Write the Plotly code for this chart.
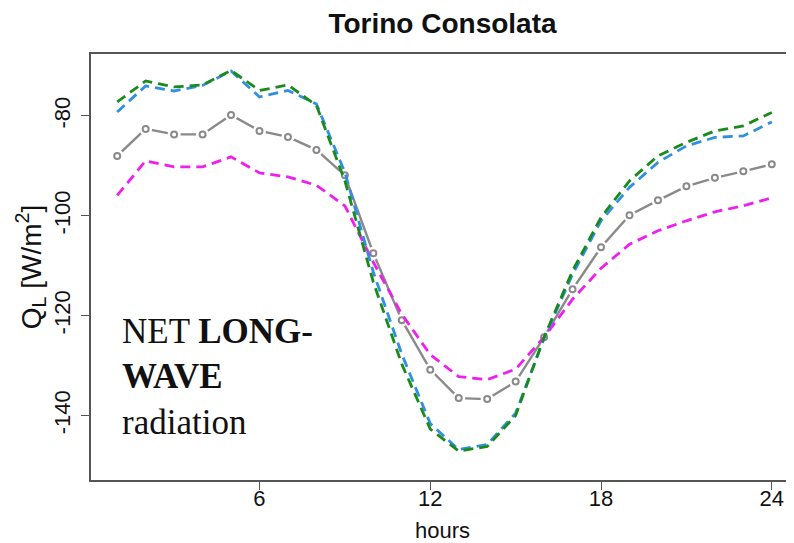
import plotly.graph_objects as go

hours = list(range(1, 25))

mean_ql = [-88.0, -82.6, -83.7, -83.7, -79.8, -83.0, -84.2, -86.8, -91.9, -107.5, -120.9, -130.8,
           -136.5, -136.7, -133.2, -124.3, -114.7, -106.3, -99.9, -96.9, -94.1, -92.4, -91.1, -89.7]
green_ql = [-77.2, -73.0, -74.2, -73.8, -70.9, -74.9, -73.8, -77.9, -93.0, -113.3, -129.7, -142.7,
            -147.1, -146.2, -140.0, -124.3, -111.0, -100.3, -93.0, -88.0, -85.3, -83.0, -82.0, -79.3]
blue_ql = [-79.2, -74.0, -75.0, -73.9, -71.0, -76.2, -74.9, -77.6, -91.3, -111.3, -127.7, -141.6,
           -146.8, -145.8, -139.5, -124.5, -111.7, -101.0, -94.3, -89.3, -86.0, -84.3, -84.0, -81.2]
pink_ql = [-95.9, -89.0, -90.2, -90.2, -88.2, -91.4, -92.2, -93.9, -98.0, -109.3, -119.7, -127.8,
           -132.2, -132.8, -130.7, -124.3, -116.7, -110.5, -105.7, -103.0, -101.0, -99.2, -98.0, -96.4]

x_ticks = [6, 12, 18, 24]
x_labels = ["6", "12", "18", "24"]
y_ticks = [-80, -100, -120, -140]
y_labels = ["-80", "-100", "-120", "-140"]

GRAY = "#8a8a8a"
fig = go.Figure()

# mean curve drawn R type="b" style: line, gaps around points, open points
fig.add_trace(go.Scatter(
    x=hours, y=mean_ql, mode="lines",
    line=dict(color=GRAY, width=2.4), showlegend=False, hoverinfo="skip"))
fig.add_trace(go.Scatter(
    x=hours, y=mean_ql, mode="markers",
    marker=dict(symbol="circle", size=13, color="white", line=dict(width=0)),
    showlegend=False, hoverinfo="skip"))
fig.add_trace(go.Scatter(
    x=hours, y=mean_ql, mode="markers",
    marker=dict(symbol="circle-open", size=6, color=GRAY, line=dict(width=2, color=GRAY)),
    showlegend=False))
fig.add_trace(go.Scatter(
    x=hours, y=pink_ql, mode="lines",
    line=dict(color="#ee1fee", width=2.8, dash="10px,6px"), showlegend=False))
fig.add_trace(go.Scatter(
    x=hours, y=blue_ql, mode="lines",
    line=dict(color="#2f8fe0", width=2.8, dash="10px,6px"), showlegend=False))
fig.add_trace(go.Scatter(
    x=hours, y=green_ql, mode="lines",
    line=dict(color="#1a8a1a", width=2.8, dash="10px,6px"), showlegend=False))

# page body has an 8px margin: figure is placed at (8, 8) in the window
OFF = 8
W, H = 794 - OFF, 543 - OFF
plot_left, plot_top, plot_bottom = 91, 54, 480

serif = "Liberation Serif, Times New Roman, serif"
ann = [
    ("NET <b>LONG-</b>", 331),
    ("<b>WAVE</b>", 376.5),
    ("radiation", 422),
]
annotations = []
for txt, ypix in ann:
    annotations.append(dict(
        text=txt, xref="paper", yref="paper",
        x=(120 - plot_left) / (794 - plot_left), y=(plot_bottom - ypix) / (plot_bottom - plot_top),
        xanchor="left", yanchor="middle", showarrow=False,
        font=dict(family=serif, size=35, color="#111111")))

sans = "Liberation Sans, Arial, sans-serif"
fig.update_layout(
    width=W, height=H,
    margin=dict(l=plot_left - OFF, r=0, t=plot_top - OFF, b=543 - plot_bottom, autoexpand=False),
    paper_bgcolor="white", plot_bgcolor="white",
    font=dict(family=sans, color="#111111"),
    title=dict(text="<b>Torino Consolata</b>", xref="paper", x=0.5, xanchor="center",
               yref="container", y=1 - (23 - OFF) / H, yanchor="middle",
               font=dict(family=sans, size=28, color="#111111")),
    xaxis=dict(range=[0.08, 24.78], tickvals=x_ticks, ticktext=x_labels, ticks="outside", ticklen=8,
               tickcolor="#555555", tickwidth=1.2,
               showline=True, linecolor="#555555", linewidth=1.5, mirror=True,
               showgrid=False, zeroline=False, ticklabelstandoff=-10,
               tickfont=dict(size=22, color="#111111"),
               title=dict(text="hours", font=dict(size=22, color="#111111"), standoff=14)),
    yaxis=dict(range=[-152.9, -67.6], tickvals=y_ticks, ticktext=y_labels, ticks="outside", ticklen=8,
               tickcolor="#555555", tickwidth=1.2,
               showline=True, linecolor="#555555", linewidth=1.5, mirror=False,
               showgrid=False, zeroline=False, tickangle=-90, ticklabelstandoff=2,
               tickfont=dict(size=22, color="#111111"),
               title=dict(text="Q<sub>L</sub> [W/m<sup>2</sup>]", font=dict(size=28, color="#111111"),
                          standoff=0)),
    annotations=annotations,
)

fig.write_html("out.html")
